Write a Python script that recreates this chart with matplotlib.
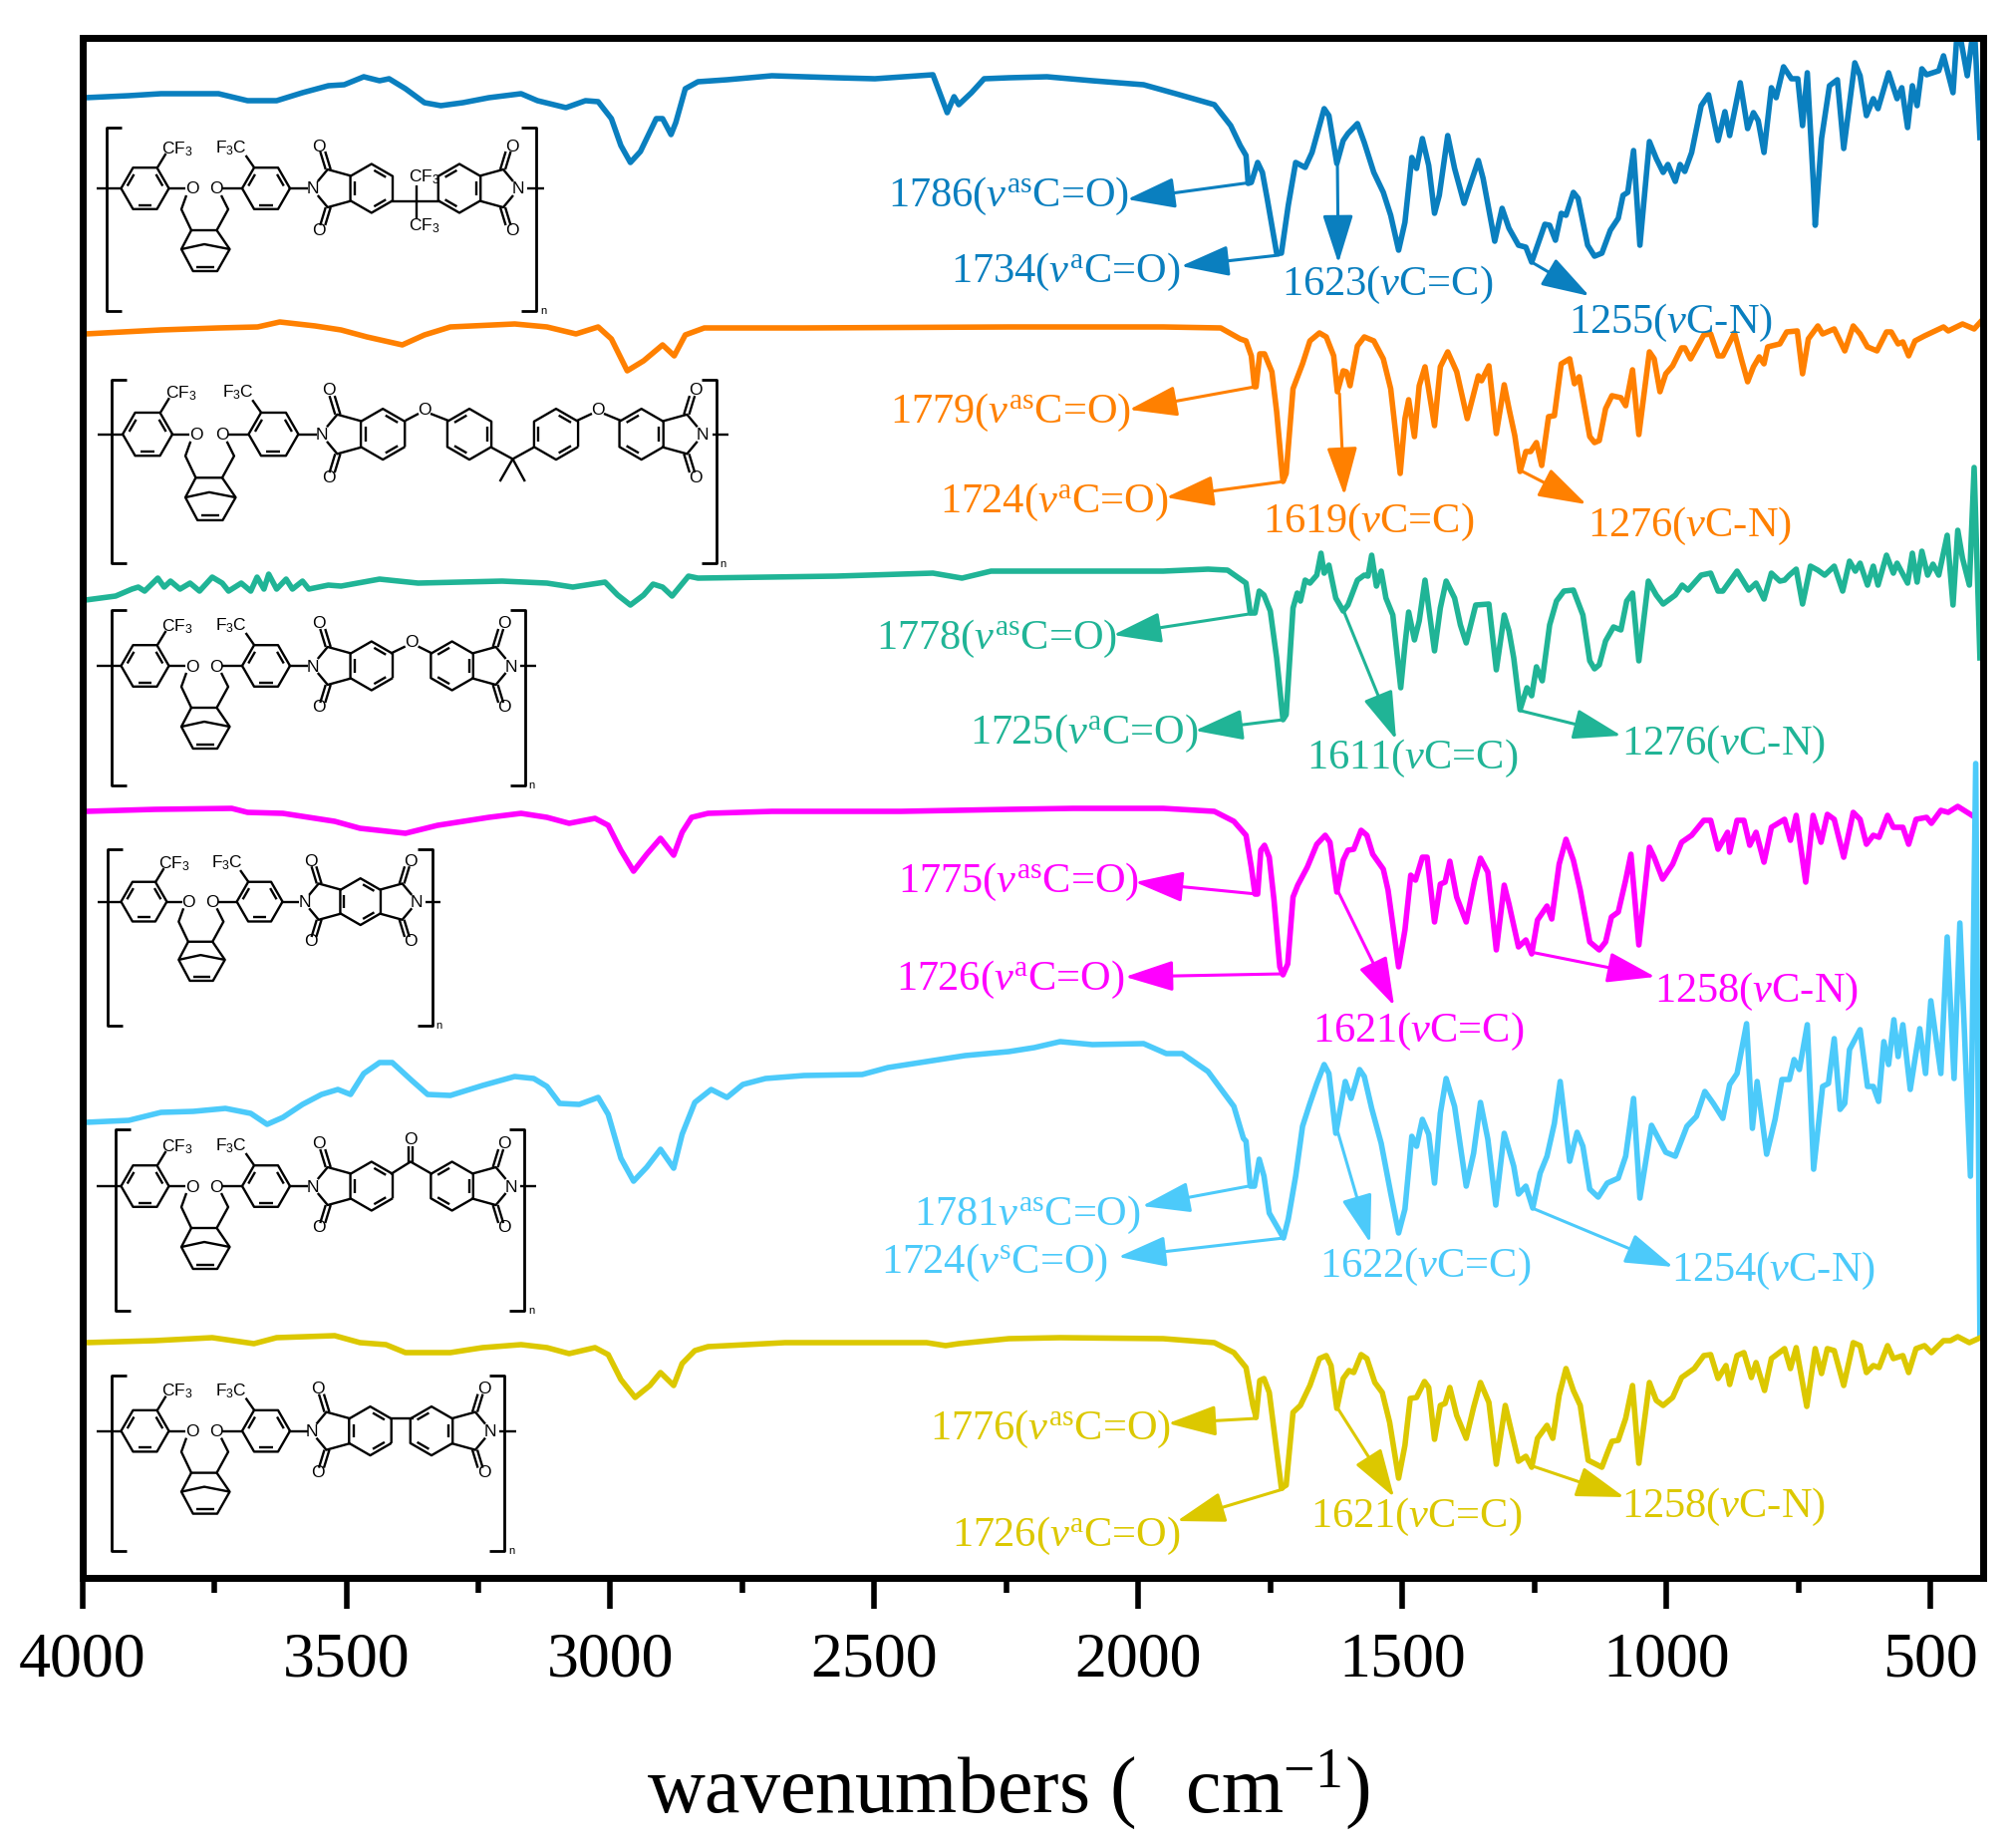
import matplotlib

matplotlib.use("Agg")
import matplotlib.pyplot as plt
import numpy as np
from matplotlib.ticker import MultipleLocator
from matplotlib.transforms import Affine2D

plt.rcParams["font.family"] = ["Liberation Serif", "DejaVu Serif"]
plt.rcParams["mathtext.fontset"] = "custom"
plt.rcParams["mathtext.rm"] = "Liberation Serif"
plt.rcParams["mathtext.it"] = "Liberation Serif:italic"
plt.rcParams["mathtext.sf"] = "Liberation Sans"

# spectra: wavenumber, stacked height (a.u.)
wn_blue = [3994, 3912, 3851, 3742, 3687, 3632, 3583, 3534, 3504, 3467, 3437, 3419, 3388, 3352, 3321, 3279, 3230, 3169, 3138, 3084, 3047, 3023, 2998, 2980, 2962, 2943, 2913, 2901, 2885, 2876, 2858, 2834, 2779, 2694, 2572, 2499, 2389, 2362, 2349, 2340, 2316, 2292, 2245, 2173, 2087, 1990, 1929, 1856, 1825, 1807,
           1796, 1792, 1786, 1774, 1765, 1756, 1738, 1729, 1716, 1702, 1684, 1671, 1648, 1639, 1624, 1612, 1603, 1585, 1572, 1554, 1536, 1522, 1507, 1495, 1482, 1473, 1462, 1450, 1439, 1430, 1414, 1401, 1383, 1370, 1356, 1347, 1325, 1311, 1298, 1280, 1266, 1255, 1230, 1221, 1210, 1199, 1190, 1176, 1167, 1149, 1136, 1122, 1106, 1091, 1082, 1073, 1062, 1050, 1032, 1019, 1006, 997, 983, 974, 965, 952, 934, 920, 902, 889, 880, 860, 846, 835, 826, 815, 801, 792, 778, 763, 751, 742, 733, 721, 718, 706, 691, 676, 664, 643, 633, 621, 608, 599, 579, 563, 554, 543, 534, 525, 516, 507, 484, 475, 457, 448, 430, 417, 406]
abs_blue = [1485, 1487, 1489, 1489, 1482, 1482, 1490, 1497, 1498, 1506, 1502, 1504, 1494, 1480, 1477, 1480, 1485, 1489, 1482, 1475, 1482, 1481, 1464, 1437, 1420, 1431, 1464, 1464, 1448, 1460, 1494, 1501, 1503, 1507, 1505, 1504, 1508, 1470, 1486, 1478, 1490, 1504, 1505, 1506, 1502, 1498, 1489, 1478, 1457, 1437,
            1427, 1399, 1400, 1420, 1410, 1384, 1329, 1329, 1377, 1420, 1415, 1430, 1474, 1467, 1419, 1442, 1449, 1459, 1440, 1410, 1390, 1367, 1332, 1360, 1425, 1414, 1444, 1417, 1369, 1387, 1447, 1414, 1379, 1400, 1422, 1404, 1341, 1374, 1354, 1337, 1335, 1320, 1358, 1357, 1342, 1369, 1367, 1390, 1384, 1337, 1326, 1329, 1352, 1364, 1387, 1390, 1432, 1337, 1441, 1424, 1410, 1418, 1401, 1418, 1411, 1430, 1477, 1488, 1442, 1471, 1447, 1500, 1454, 1470, 1462, 1430, 1495, 1485, 1516, 1504, 1504, 1457, 1510, 1394, 1357, 1444, 1497, 1503, 1434, 1520, 1507, 1467, 1484, 1474, 1510, 1484, 1495, 1455, 1497, 1477, 1514, 1508, 1512, 1527, 1490, 1560, 1507, 1560, 1445]

wn_orange = [3994, 3851, 3742, 3668, 3626, 3559, 3510, 3461, 3394, 3352, 3303, 3181, 3120, 3065, 3023, 2998, 2968, 2937, 2901, 2879, 2858, 2822, 2633, 2245, 2124, 1953, 1844, 1807,
             1796, 1786, 1780, 1777, 1770, 1761, 1747, 1738, 1726, 1720, 1707, 1689, 1675, 1657, 1644, 1630, 1623, 1612, 1606, 1599, 1585, 1572, 1554, 1536, 1522, 1504, 1495, 1488, 1477, 1468, 1457, 1439, 1428, 1414, 1397, 1377, 1356, 1350, 1336, 1322, 1307, 1298, 1287, 1277, 1266, 1257, 1246, 1236, 1223, 1212, 1199, 1183, 1174, 1165, 1145, 1136, 1127, 1115, 1103, 1086, 1077, 1064, 1052, 1032, 1023, 1012, 1001, 988, 971, 965, 954, 929, 916, 902, 893, 871, 857, 846, 835, 824, 815, 808, 785, 772, 752, 742, 731, 713, 704, 682, 662, 646, 633, 619, 601, 583, 574, 561, 552, 541, 529, 511, 475, 466, 439, 417, 405]
abs_orange = [1248, 1252, 1254, 1255, 1260, 1256, 1252, 1245, 1237, 1247, 1255, 1258, 1255, 1248, 1255, 1243, 1211, 1221, 1237, 1226, 1247, 1254, 1254, 1255, 1255, 1255, 1254, 1243,
              1241, 1226, 1195, 1195, 1228, 1228, 1210, 1170, 1100, 1108, 1193, 1218, 1241, 1249, 1245, 1226, 1190, 1211, 1210, 1196, 1236, 1245, 1241, 1223, 1193, 1108, 1163, 1182, 1145, 1196, 1215, 1156, 1215, 1230, 1210, 1163, 1206, 1201, 1216, 1148, 1197, 1173, 1146, 1110, 1130, 1130, 1139, 1116, 1165, 1166, 1218, 1223, 1198, 1205, 1145, 1139, 1141, 1173, 1186, 1184, 1176, 1212, 1147, 1230, 1223, 1190, 1208, 1216, 1234, 1234, 1223, 1247, 1248, 1226, 1226, 1249, 1221, 1200, 1215, 1225, 1218, 1235, 1238, 1250, 1251, 1208, 1243, 1256, 1248, 1253, 1231, 1256, 1248, 1235, 1231, 1250, 1250, 1238, 1240, 1226, 1241, 1246, 1255, 1251, 1258, 1253, 1260]

wn_teal = [3994, 3937, 3906, 3894, 3882, 3857, 3845, 3833, 3815, 3796, 3778, 3754, 3735, 3723, 3699, 3681, 3669, 3656, 3647, 3632, 3614, 3602, 3583, 3571, 3534, 3510, 3437, 3364, 3205, 3120, 3071, 3010, 2986, 2962, 2937, 2919, 2901, 2883, 2852, 2834, 2572, 2389, 2334, 2279, 1953, 1868, 1831, 1807,
           1796, 1788, 1779, 1771, 1762, 1750, 1738, 1726, 1720, 1707, 1699, 1693, 1684, 1675, 1662, 1654, 1648, 1639, 1626, 1612, 1603, 1585, 1572, 1565, 1558, 1549, 1540, 1531, 1518, 1503, 1495, 1488, 1477, 1468, 1457, 1439, 1428, 1417, 1401, 1390, 1379, 1361, 1336, 1322, 1307, 1298, 1289, 1277, 1264, 1255, 1246, 1235, 1221, 1208, 1194, 1176, 1158, 1145, 1136, 1127, 1115, 1100, 1086, 1075, 1064, 1052, 1034, 1019, 1006, 983, 970, 959, 934, 916, 902, 893, 866, 844, 830, 815, 801, 785, 776, 767, 754, 742, 727, 713, 700, 682, 666, 653, 642, 633, 619, 608, 599, 583, 570, 563, 543, 534, 525, 516, 505, 495, 484, 468, 457, 448, 439, 426, 417, 406]
abs_teal = [981, 985, 992, 994, 990, 1003, 994, 1000, 992, 998, 990, 1004, 998, 990, 998, 990, 1004, 992, 1007, 992, 1002, 992, 1000, 992, 996, 995, 1002, 998, 1000, 998, 994, 999, 986, 976, 986, 997, 994, 985, 1005, 1003, 1005, 1008, 1003, 1010, 1010, 1012, 1011, 1002,
            998, 968, 968, 990, 986, 970, 923, 861, 866, 973, 988, 980, 1001, 998, 1006, 1028, 1008, 1016, 983, 970, 976, 1001, 1006, 1005, 1026, 995, 1010, 983, 966, 893, 936, 969, 941, 960, 1001, 930, 973, 1000, 983, 956, 938, 976, 977, 911, 966, 950, 923, 871, 893, 885, 914, 900, 956, 980, 990, 991, 966, 920, 912, 916, 940, 954, 951, 980, 988, 920, 1000, 986, 977, 986, 996, 991, 1006, 1008, 990, 990, 1010, 991, 998, 982, 1008, 1000, 1001, 1006, 1012, 977, 1015, 1011, 1006, 1015, 990, 1020, 1010, 1018, 996, 1015, 996, 1026, 1008, 1018, 998, 1028, 999, 1030, 1006, 1017, 1006, 1046, 976, 1051, 1023, 996, 1114, 923]

wn_magenta = [3994, 3863, 3717, 3687, 3620, 3522, 3474, 3388, 3327, 3230, 3169, 3120, 3078, 3029, 3004, 2980, 2956, 2931, 2905, 2880, 2864, 2846, 2815, 2694, 2450, 2245, 2124, 1953, 1856, 1819,
              1796, 1786, 1779, 1774, 1768, 1761, 1752, 1743, 1732, 1726, 1717, 1707, 1698, 1680, 1662, 1646, 1637, 1624, 1612, 1603, 1592, 1578, 1567, 1556, 1536, 1527, 1507, 1495, 1484, 1475, 1462, 1453, 1439, 1428, 1419, 1410, 1397, 1379, 1363, 1352, 1338, 1322, 1307, 1298, 1280, 1266, 1255, 1244, 1226, 1217, 1203, 1190, 1176, 1163, 1145, 1127, 1115, 1104, 1091, 1077, 1067, 1052, 1032, 1023, 1007, 988, 971, 952, 929, 916, 902, 884, 880, 866, 853, 842, 830, 815, 801, 776, 765, 754, 736, 722, 707, 695, 682, 664, 646, 633, 621, 608, 597, 581, 570, 552, 541, 527, 507, 498, 480, 466, 448, 421]
abs_magenta = [769, 771, 772, 768, 767, 759, 752, 747, 755, 763, 767, 763, 757, 762, 755, 730, 709, 726, 742, 725, 748, 763, 767, 769, 769, 771, 772, 772, 769, 759,
               745, 713, 686, 686, 730, 735, 723, 680, 613, 605, 616, 683, 695, 713, 736, 745, 738, 688, 720, 730, 731, 750, 745, 726, 711, 690, 613, 650, 705, 700, 723, 723, 658, 696, 698, 719, 683, 658, 700, 722, 708, 630, 695, 676, 633, 640, 626, 660, 674, 661, 716, 741, 720, 690, 638, 630, 638, 663, 668, 700, 726, 635, 733, 723, 701, 716, 738, 745, 760, 760, 731, 748, 728, 760, 760, 735, 748, 718, 753, 761, 740, 765, 698, 765, 738, 766, 761, 723, 768, 761, 736, 745, 743, 765, 753, 753, 736, 761, 763, 757, 770, 768, 774, 765]

wn_sky = [3994, 3912, 3851, 3790, 3729, 3681, 3650, 3620, 3583, 3547, 3516, 3492, 3467, 3437, 3413, 3376, 3346, 3303, 3242, 3181, 3145, 3120, 3096, 3059, 3023, 3004, 2980, 2956, 2931, 2905, 2880, 2864, 2840, 2809, 2779, 2749, 2706, 2633, 2523, 2474, 2389, 2328, 2245, 2197, 2148, 2087, 1990, 1947, 1917, 1868, 1819, 1801,
          1796, 1788, 1780, 1771, 1762, 1752, 1725, 1716, 1702, 1689, 1675, 1662, 1648, 1639, 1626, 1608, 1597, 1581, 1572, 1558, 1540, 1522, 1507, 1495, 1482, 1473, 1462, 1450, 1439, 1428, 1417, 1401, 1379, 1365, 1352, 1338, 1323, 1307, 1289, 1280, 1266, 1253, 1239, 1226, 1212, 1201, 1183, 1169, 1158, 1145, 1129, 1112, 1091, 1077, 1062, 1050, 1028, 1001, 983, 961, 943, 927, 911, 893, 880, 866, 848, 837, 828, 810, 794, 781, 767, 758, 748, 733, 721, 704, 693, 682, 671, 662, 653, 633, 619, 608, 598, 588, 579, 569, 561, 552, 538, 520, 509, 499, 480, 468, 455, 444, 424, 414, 406]
abs_sky = [457, 459, 467, 468, 471, 466, 455, 462, 475, 485, 490, 485, 506, 517, 517, 499, 485, 484, 494, 503, 501, 493, 476, 475, 482, 465, 421, 398, 412, 430, 411, 445, 477, 490, 482, 495, 501, 504, 505, 512, 519, 524, 528, 532, 538, 535, 536, 526, 526, 508, 473, 441,
           438, 393, 393, 420, 403, 366, 341, 360, 403, 453, 476, 496, 515, 506, 446, 498, 481, 510, 503, 471, 436, 386, 346, 370, 443, 433, 460, 445, 396, 466, 501, 473, 393, 426, 477, 440, 374, 446, 413, 385, 393, 371, 406, 423, 456, 498, 418, 447, 433, 390, 382, 396, 401, 423, 481, 381, 454, 427, 423, 453, 463, 488, 476, 461, 495, 506, 556, 451, 498, 425, 460, 500, 500, 520, 510, 555, 410, 493, 496, 541, 470, 476, 530, 550, 493, 493, 478, 538, 515, 560, 523, 555, 490, 551, 506, 579, 506, 643, 501, 657, 403, 817, 241]

wn_yellow = [3994, 3863, 3754, 3675, 3632, 3522, 3474, 3425, 3388, 3303, 3242, 3169, 3120, 3078, 3029, 3004, 2980, 2953, 2925, 2905, 2880, 2864, 2840, 2815, 2669, 2401, 2365, 2340, 2245, 2148, 1953, 1856, 1819,
             1796, 1783, 1777, 1770, 1762, 1752, 1741, 1729, 1720, 1707, 1693, 1675, 1657, 1644, 1635, 1624, 1612, 1601, 1592, 1578, 1567, 1552, 1538, 1524, 1507, 1495, 1485, 1473, 1458, 1450, 1439, 1428, 1419, 1410, 1397, 1379, 1365, 1352, 1336, 1322, 1305, 1293, 1280, 1266, 1255, 1244, 1226, 1215, 1203, 1190, 1176, 1163, 1148, 1122, 1112, 1103, 1091, 1077, 1064, 1052, 1032, 1019, 1006, 988, 971, 947, 929, 916, 902, 887, 880, 866, 853, 839, 830, 814, 801, 776, 765, 754, 734, 718, 706, 695, 682, 664, 646, 633, 621, 608, 597, 581, 570, 552, 541, 527, 511, 498, 475, 462, 448, 426, 405]
abs_yellow = [236, 238, 241, 235, 241, 243, 236, 234, 226, 226, 231, 234, 231, 225, 231, 224, 199, 181, 193, 206, 193, 215, 228, 232, 236, 236, 233, 235, 240, 241, 240, 236, 226,
              211, 173, 161, 198, 200, 186, 140, 90, 93, 166, 173, 193, 220, 223, 213, 170, 200, 208, 206, 224, 220, 196, 186, 156, 100, 133, 180, 181, 197, 191, 139, 173, 175, 191, 163, 140, 171, 196, 176, 114, 173, 146, 117, 122, 111, 140, 153, 140, 183, 210, 188, 173, 118, 111, 125, 137, 138, 160, 193, 115, 196, 178, 173, 181, 201, 210, 223, 224, 200, 213, 194, 223, 226, 201, 216, 188, 220, 230, 210, 231, 172, 230, 205, 230, 228, 193, 236, 233, 206, 213, 211, 233, 220, 223, 206, 230, 233, 226, 238, 238, 242, 236, 241]

# assigned bands and the height where each arrow leaves the curve
peaks_blue = [1786, 1734, 1623, 1255]
tails_blue = [1400, 1327, 1421, 1320]
peaks_orange = [1779, 1724, 1619, 1276]
tails_orange = [1195, 1100, 1188, 1111]
peaks_teal = [1778, 1725, 1611, 1276]
tails_teal = [968, 861, 970, 870]
peaks_magenta = [1775, 1726, 1621, 1258]
tails_magenta = [686, 606, 688, 628]
peaks_sky = [1781, 1724, 1622, 1254]
tails_sky = [394, 341, 447, 371]
peaks_yellow = [1776, 1726, 1621, 1258]
tails_yellow = [160, 89, 169, 113]

AS = r"($v^{\mathrm{as}}$C=O)"
A = r"($v^{\mathrm{a}}$C=O)"
CC = r"($v$C=C)"
CN = "($v$C\u2010N)"

labels_blue = ["1786" + AS, "1734" + A, "1623" + CC, "1255" + CN]
labels_orange = ["1779" + AS, "1724" + A, "1619" + CC, "1276" + CN]
labels_teal = ["1778" + AS, "1725" + A, "1611" + CC, "1276" + CN]
labels_magenta = ["1775" + AS, "1726" + A, "1621" + CC, "1258" + CN]
labels_sky = [r"1781$v^{\mathrm{as}}$C=O)", r"1724($v^{\mathrm{s}}$C=O)", "1622" + CC, "1254" + CN]
labels_yellow = ["1776" + AS, "1726" + A, "1621" + CC, "1258" + CN]

# layout in image pixels (x right, y down): arrow tips, label left/baseline
tips_blue = [(1131, 200), (1185, 267), (1343, 264), (1595, 297)]
pos_blue = [(891, 207), (954, 283), (1286, 296), (1574, 334)]
tips_orange = [(1133, 411), (1170, 499), (1349, 497), (1592, 506)]
pos_orange = [(893, 424), (943, 514), (1267, 534), (1593, 538)]
tips_teal = [(1117, 637), (1199, 733), (1401, 742), (1627, 738)]
pos_teal = [(879, 651), (973, 746), (1311, 771), (1627, 757)]
tips_magenta = [(1139, 885), (1129, 980), (1399, 1009), (1661, 980)]
pos_magenta = [(901, 895), (899, 993), (1317, 1045), (1660, 1005)]
tips_sky = [(1146, 1210), (1122, 1261), (1375, 1247), (1679, 1271)]
pos_sky = [(917, 1229), (884, 1277), (1324, 1281), (1677, 1285)]
tips_yellow = [(1172, 1428), (1181, 1526), (1399, 1502), (1630, 1502)]
pos_yellow = [(933, 1444), (955, 1551), (1315, 1532), (1627, 1522)]

series = [
    ("#0A7FBF", wn_blue, abs_blue, peaks_blue, tails_blue, tips_blue, pos_blue, labels_blue),
    ("#FF8000", wn_orange, abs_orange, peaks_orange, tails_orange, tips_orange, pos_orange, labels_orange),
    ("#20B496", wn_teal, abs_teal, peaks_teal, tails_teal, tips_teal, pos_teal, labels_teal),
    ("#FF00FF", wn_magenta, abs_magenta, peaks_magenta, tails_magenta, tips_magenta, pos_magenta, labels_magenta),
    ("#4CCAFA", wn_sky, abs_sky, peaks_sky, tails_sky, tips_sky, pos_sky, labels_sky),
    ("#DCC800", wn_yellow, abs_yellow, peaks_yellow, tails_yellow, tips_yellow, pos_yellow, labels_yellow),
]

W, H = 2024, 1854
fig = plt.figure(figsize=(W / 100, H / 100), dpi=100)
ax = fig.add_axes([82.6 / W, (H - 1583) / H, (1990 - 82.6) / W, 1545 / H])
px = Affine2D().scale(1, -1).translate(0, H)

for color, wn, vals, peaks, tails, tips, pos, labels in series:
    ax.plot(wn, vals, color=color, lw=4.0, solid_joinstyle="round")
    for peak, tail, tip, p, lab in zip(peaks, tails, tips, pos, labels):
        ax.annotate(
            "", xy=tip, xycoords=px, xytext=(peak, tail), textcoords="data",
            annotation_clip=False,
            arrowprops=dict(arrowstyle="-|>,head_length=3.0,head_width=0.95",
                            mutation_scale=10, lw=2.2, color=color, shrinkA=0, shrinkB=0),
        )
        ax.text(p[0], p[1], lab, transform=px, color=color, fontsize=30.5,
                ha="left", va="baseline")

ax.set_xlim(4000, 400)
ax.set_ylim(0, 1545)
ax.set_yticks([])
ax.xaxis.set_major_locator(MultipleLocator(500))
ax.xaxis.set_minor_locator(MultipleLocator(250))
ax.tick_params(axis="x", which="major", direction="out", length=22, width=4, labelsize=46, pad=17)
ax.tick_params(axis="x", which="minor", direction="out", length=11, width=4)
for spine in ax.spines.values():
    spine.set_linewidth(5)
ax.text(649, 1819, r"wavenumbers ($\,$  cm$^{-1}$)", transform=px, fontsize=57.6,
        ha="left", va="baseline", color="black")


# chemical structures under each spectrum, drawn in image pixels
def seg(*pts, lw=1.7):
    xs = [p[0] for p in pts]
    ys = [p[1] for p in pts]
    ax.plot(xs, ys, color="black", lw=lw, transform=px, clip_on=False,
            solid_capstyle="butt", zorder=3)


def atom(x, y, s, size=12.5):
    ax.text(x, y, s, transform=px, fontsize=size, family="Liberation Sans",
            ha="center", va="center", color="black", zorder=3)


def ring(cx, cy, r, start, inner):
    ang = np.radians(start + 60 * np.arange(7))
    vx = cx + r * np.cos(ang)
    vy = cy + r * np.sin(ang)
    seg(*zip(vx, vy))
    for i in inner:
        ix = cx + 0.8 * r * np.cos(ang[[i, i + 1]])
        iy = cy + 0.8 * r * np.sin(ang[[i, i + 1]])
        seg((ix[0] * 0.85 + ix[1] * 0.15, iy[0] * 0.85 + iy[1] * 0.15),
            (ix[1] * 0.85 + ix[0] * 0.15, iy[1] * 0.85 + iy[0] * 0.15))


def left_part(ox, oy, s):
    def P(x, y):
        return (ox + s * x, oy + s * y)

    seg(P(-24, 0), P(0, 0))
    ring(*P(24.5, 0), 24 * s, 0, (1, 3, 5))
    seg(P(37, -21), P(45.5, -35))
    atom(*P(56.5, -39.6), r"$\mathsf{CF_3}$")
    seg(P(48, 0), P(65, 0))
    atom(*P(71.4, 1), "O")
    seg(P(66, 7), P(61, 21), P(71, 42), P(96.5, 42), P(108, 21), P(101, 7))
    atom(*P(96, 1), "O")
    seg(P(102, 0), P(123, 0))
    ring(*P(146, 0), 24 * s, 0, (1, 3, 5))
    seg(P(134, -21), P(125.6, -33))
    atom(*P(111.4, -40.4), r"$\mathsf{F_3C}$")
    seg(P(169.5, 0), P(187.6, 0))
    # norbornene cage
    seg(P(71, 42), P(61, 61), P(72.7, 83), P(97, 83), P(109.5, 61), P(96.5, 42))
    seg(P(76, 78.5), P(94, 78.5))
    seg(P(61, 61), P(84, 56), P(109.5, 61))


def imide(nx, ny, d, s):
    def P(x, y):
        return (nx + d * s * x, ny + s * y)

    atom(*P(0, 1), "N")
    for sign in (-1, 1):
        seg(P(5, sign * 7), P(15, sign * 19), P(39, sign * 12.4))
        seg(P(13, sign * 19), P(7.5, sign * 37))
        seg(P(18, sign * 19), P(12.5, sign * 37))
        atom(*P(6.5, sign * 42), "O")


def phthal(nx, ny, d, s):
    imide(nx, ny, d, s)
    ring(nx + d * 59 * s, ny, 24.5 * s, 30, (0, 2, 4) if d > 0 else (1, 3, 5))


def bracket(xl, xr, yt, yb, nx, ny):
    seg((xl + 15, yt), (xl, yt), (xl, yb), (xl + 15, yb), lw=2)
    seg((xr - 15, yt), (xr, yt), (xr, yb), (xr - 15, yb), lw=2)
    ax.text(nx, ny, "n", transform=px, fontsize=8, family="Liberation Sans",
            ha="center", va="center", zorder=3)


# 6FDA unit
left_part(121, 189, 1.0)
phthal(313.8, 189, 1, 1.0)
phthal(520, 189, -1, 1.0)
seg((392.5, 201.6), (442, 201.6))
seg((418, 185.8), (418, 219))
atom(426, 178, r"$\mathsf{CF_3}$")
atom(426, 227, r"$\mathsf{CF_3}$")
seg((529, 189), (546, 189))
bracket(106.5, 538, 128, 312, 545.5, 312)

# BPADA unit
left_part(122.6, 435.6, 1.04)
phthal(322.8, 435.6, 1, 1.04)
phthal(705, 435.6, -1, 1.04)
seg((406.7, 422), (420, 415))
atom(426, 411, "O")
seg((432, 415), (450, 422))
ring(471, 435.6, 25.5, 30, (1, 3, 5))
seg((492.6, 448.6), (514.5, 460.5), (536, 448.6))
seg((501.6, 483), (514.5, 460.5), (526.8, 483))
ring(558, 435.6, 25.5, 30, (0, 2, 4))
seg((579, 422), (594, 415))
atom(600, 411, "O")
seg((606, 415), (623, 422))
seg((715, 435.6), (731, 435.6))
bracket(111.7, 718.5, 381.4, 565, 725.6, 566)

# ODPA unit
left_part(121, 668, 1.0)
phthal(313.8, 668, 1, 1.0)
phthal(512.6, 668, -1, 1.0)
seg((392, 655.6), (406.7, 648.5))
atom(413, 644.5, "O")
seg((419.6, 648.5), (433.8, 655.6))
seg((522, 668), (538, 668))
bracket(111.7, 527.4, 612, 787.6, 533, 788)

# PMDA unit
left_part(121, 904.6, 0.956)
imide(305.4, 904.6, 1, 0.956)
imide(418, 904.6, -1, 0.956)
ring(361.7, 904.6, 23.4, 30, (0, 2, 4))
seg((427, 904.6), (442, 904.6))
bracket(108, 434, 851.6, 1029, 440, 1029)

# BTDA unit
left_part(121, 1190, 1.0)
phthal(313.8, 1190, 1, 1.0)
phthal(512.6, 1190, -1, 1.0)
seg((392, 1178), (412, 1165.5), (433.8, 1178))
seg((410, 1165.5), (410, 1150))
seg((414, 1165.5), (414, 1150))
atom(412, 1143.7, "O")
seg((522, 1190), (538, 1190))
bracket(116, 526, 1132.6, 1315, 533, 1315)

# BPDA unit
left_part(121, 1435.6, 1.0)
phthal(312.5, 1435.6, 1, 1.0)
phthal(492, 1435.6, -1, 1.0)
seg((390.6, 1423), (414.5, 1423))
seg((501, 1435.6), (518, 1435.6))
bracket(111.7, 506, 1380, 1556, 513, 1556)

fig.savefig("out.png", dpi=100)
